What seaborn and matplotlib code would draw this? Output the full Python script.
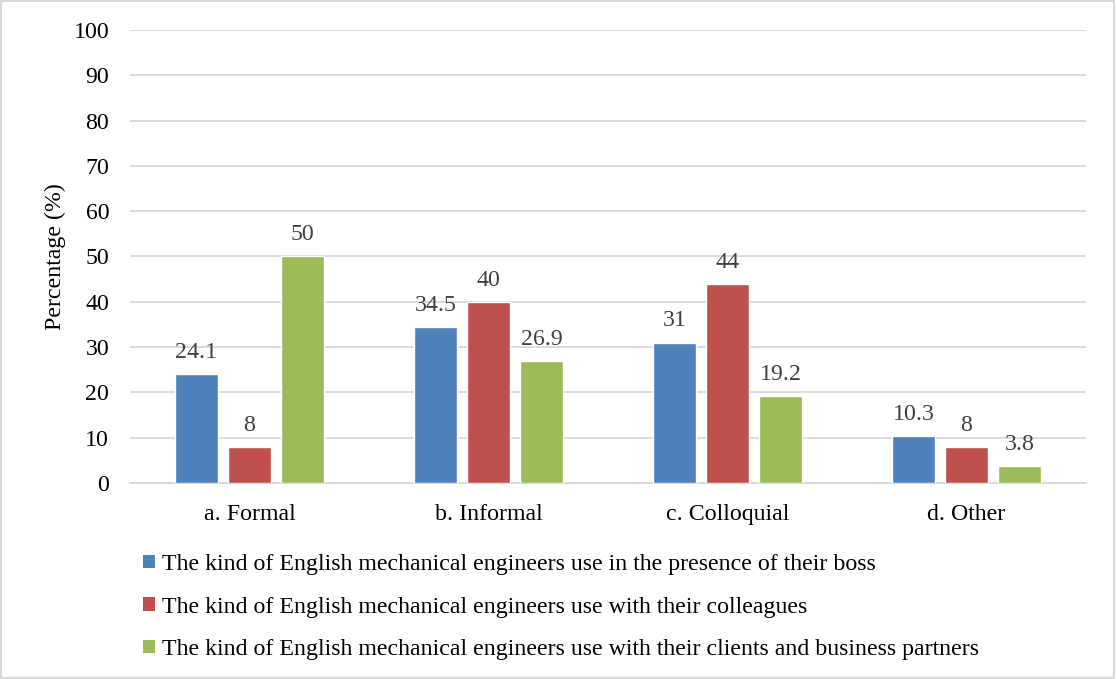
import matplotlib
matplotlib.use("Agg")
import matplotlib.pyplot as plt
import seaborn as sns
import pandas as pd
from matplotlib.patches import Patch, Rectangle

categories = ["a. Formal", "b. Informal", "c. Colloquial", "d. Other"]
series_names = [
    "The kind of English mechanical engineers use in the presence of their boss",
    "The kind of English mechanical engineers use with their colleagues",
    "The kind of English mechanical engineers use with their clients and business partners",
]
boss_values = [24.1, 34.5, 31, 10.3]
colleague_values = [8, 40, 44, 8]
client_values = [50, 26.9, 19.2, 3.8]
colors = ["#4F81BD", "#C0504D", "#9BBB59"]

rows = []
for name, vals in zip(series_names, [boss_values, colleague_values, client_values]):
    for cat, v in zip(categories, vals):
        rows.append({"category": cat, "series": name, "value": v})
df = pd.DataFrame(rows)

sns.set_style("white")
plt.rcParams["font.family"] = ["Liberation Serif", "DejaVu Serif"]
plt.rcParams["text.color"] = "black"
plt.rcParams["axes.labelcolor"] = "black"
FS = 17.2

fig = plt.figure(figsize=(11.16, 6.79), dpi=100)
ax = fig.add_axes([0.1165, 0.2887, 0.8565, 0.6671])

sns.barplot(data=df, x="category", y="value", hue="series", order=categories,
            hue_order=series_names, palette=colors, width=0.665, gap=0.2,
            saturation=1, legend=False, ax=ax, zorder=3)

for container in ax.containers:
    ax.bar_label(container, labels=[f"{v:g}" for v in container.datavalues],
                 padding=8, fontsize=FS, color="#404040")

ax.set_ylim(0, 100)
ax.set_yticks(range(0, 101, 10))
ax.yaxis.grid(True, color="#d9d9d9", linewidth=1.3, zorder=0)
ax.set_axisbelow(True)
for s in ["top", "right", "left"]:
    ax.spines[s].set_visible(False)
ax.spines["bottom"].set_color("#d9d9d9")
ax.spines["bottom"].set_linewidth(1.3)
ax.tick_params(axis="both", length=0, labelsize=FS, colors="black")
ax.tick_params(axis="x", pad=15)
ax.tick_params(axis="y", pad=15)
ax.set_xlabel("")
ax.set_ylabel("Percentage (%)", fontsize=FS, labelpad=5, color="black")
ax.set_xlim(-0.5, 3.5)

handles = [Patch(facecolor=c, edgecolor="none") for c in colors]
fig.legend(handles, series_names, loc="upper left",
           bbox_to_anchor=(0.128, 0.184), frameon=False, fontsize=FS,
           handlelength=0.5, handleheight=0.5, handletextpad=0.3,
           labelspacing=0.9, borderaxespad=0, borderpad=0, labelcolor="black")

fig.patches.append(Rectangle((0.001, 0.001), 0.997, 0.997, transform=fig.transFigure,
                             fill=False, edgecolor="#d9d9d9", linewidth=1.5))

fig.savefig("out.png", dpi=100)
